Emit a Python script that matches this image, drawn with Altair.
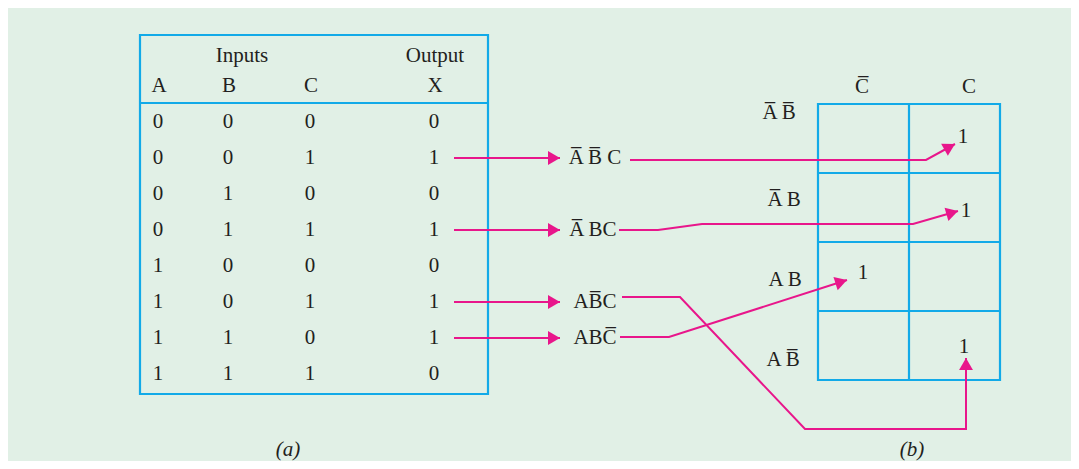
import math
import altair as alt
import pandas as pd

# ---------------- data ----------------
A = [0, 0, 0, 0, 1, 1, 1, 1]
B = [0, 0, 1, 1, 0, 0, 1, 1]
C = [0, 1, 0, 1, 0, 1, 0, 1]
X = [0, 1, 0, 1, 0, 1, 1, 0]
col_heads = ["A", "B", "C", "X"]
group_heads = ["Inputs", "Output"]
minterms = ["A\u0305 B\u0305 C", "A\u0305 BC", "AB\u0305C", "ABC\u0305"]
kmap_rows = ["A\u0305 B\u0305", "A\u0305 B", "A B", "A B\u0305"]
kmap_cols = ["C\u0305", "C"]
kmap_ones = [1, 1, 1, 1]
captions = ["(a)", "(b)"]

# ---------------- layout (reference pixel grid) ----------------
W, H = 1063, 453
BG = "#e1f0e6"
BLUE = "#12aae8"
PINK = "#e8168b"
INK = "#231f20"
FONT = "Liberation Serif"
FS = 21

tbl = dict(l=140, r=488, t=35, sep=103, b=394)
col_x = [158, 228, 310, 434]
row_y0, row_dy = 122, 36
row_y = [row_y0 + row_dy * i for i in range(len(A))]
head_y, group_y = 86, 56
group_x = [242, 435]

arrow_x0, arrow_x1 = 454, 560
term_x = [595, 593, 595, 595]

paths = [
    [(630, 160), (926, 160), (955, 144)],
    [(619, 230), (658, 230), (702, 224), (913, 224), (958, 211)],
    [(622, 297), (680, 297), (805, 429), (966, 429), (966, 358)],
    [(620, 337), (669, 337), (847, 280)],
]

km = dict(l=818, m=909, r=1000, ys=[104, 173, 242, 311, 380])
kcol_x, kcol_y = [862, 969], 87
krow_x, krow_y = [779, 784, 785, 783], [113, 200, 280, 360]
kone_pos = [(963, 137), (966, 211), (863, 273), (964, 347)]
cap_pos = [(288, 450), (912, 450)]

xs = alt.Scale(domain=[8, 8 + W], nice=False, zero=False)
ys = alt.Scale(domain=[8, 8 + H], nice=False, zero=False, reverse=True)


def XY(xf="x", yf="y"):
    return dict(x=alt.X(f"{xf}:Q", scale=xs, axis=None),
                y=alt.Y(f"{yf}:Q", scale=ys, axis=None))


# ---------------- text ----------------
texts = []
for i in range(len(A)):
    for j, v in enumerate([A[i], B[i], C[i], X[i]]):
        texts.append(dict(x=col_x[j], y=row_y[i], t=str(v)))
for j, h in enumerate(col_heads):
    texts.append(dict(x=col_x[j] + 1, y=head_y, t=h))
for j, h in enumerate(group_heads):
    texts.append(dict(x=group_x[j], y=group_y, t=h))
ones_rows = [i for i, v in enumerate(X) if v == 1]
for k, i in enumerate(ones_rows):
    texts.append(dict(x=term_x[k], y=row_y[i], t=minterms[k]))
for j, h in enumerate(kmap_cols):
    texts.append(dict(x=kcol_x[j], y=kcol_y, t=h))
for j, h in enumerate(kmap_rows):
    texts.append(dict(x=krow_x[j], y=krow_y[j], t=h))
for k, v in enumerate(kmap_ones):
    texts.append(dict(x=kone_pos[k][0], y=kone_pos[k][1], t=str(v)))
tdf = pd.DataFrame(texts)

text_layer = alt.Chart(tdf).mark_text(
    font=FONT, fontSize=FS, color=INK, align="center", baseline="middle"
).encode(**XY(), text="t:N")

cdf = pd.DataFrame([dict(x=p[0], y=p[1], t=c) for p, c in zip(cap_pos, captions)])
cap_layer = alt.Chart(cdf).mark_text(
    font=FONT, fontSize=FS, fontStyle="italic", color=INK, align="center", baseline="middle"
).encode(**XY(), text="t:N")

# ---------------- boxes ----------------
rects = pd.DataFrame([
    dict(x=tbl["l"], x2=tbl["r"], y=tbl["t"], y2=tbl["b"]),
    dict(x=km["l"], x2=km["r"], y=km["ys"][0], y2=km["ys"][-1]),
])
rect_layer = alt.Chart(rects).mark_rect(fillOpacity=0, stroke=BLUE, strokeWidth=2.2).encode(
    **XY(), x2="x2:Q", y2="y2:Q")

rules = [dict(x=tbl["l"], x2=tbl["r"], y=tbl["sep"], y2=tbl["sep"])]
rules.append(dict(x=km["m"], x2=km["m"], y=km["ys"][0], y2=km["ys"][-1]))
for yy in km["ys"][1:-1]:
    rules.append(dict(x=km["l"], x2=km["r"], y=yy, y2=yy))
rule_layer = alt.Chart(pd.DataFrame(rules)).mark_rule(color=BLUE, strokeWidth=2.2).encode(
    **XY(), x2="x2:Q", y2="y2:Q")

# ---------------- pink arrows ----------------
all_paths = [[(arrow_x0, row_y[i]), (arrow_x1, row_y[i])] for i in ones_rows] + paths
lines, heads = [], []
L = 12.0
for pid, pts in enumerate(all_paths):
    for k, (px, py) in enumerate(pts):
        lines.append(dict(id=pid, k=k, x=px, y=py))
    (ax, ay), (bx, by) = pts[-2], pts[-1]
    dx, dy = bx - ax, by - ay
    n = math.hypot(dx, dy)
    ux, uy = dx / n, dy / n
    ang = math.degrees(math.atan2(dx, -dy)) % 360
    heads.append(dict(x=bx - ux * L / 2, y=by - uy * L / 2, a=ang))
line_layer = alt.Chart(pd.DataFrame(lines)).mark_line(color=PINK, strokeWidth=2).encode(
    **XY(), detail="id:N", order="k:Q")
head_layer = alt.Chart(pd.DataFrame(heads)).mark_point(
    shape="triangle-up", filled=True, fill=PINK, color=PINK, opacity=1, size=(L / 0.866) ** 2
).encode(**XY(), angle=alt.Angle("a:Q", scale=None))

chart = alt.layer(
    rect_layer, rule_layer, line_layer, head_layer, text_layer, cap_layer
).properties(
    width=W, height=H, background=BG, padding=0,
    autosize=alt.AutoSizeParams(type="none"),
).configure_view(stroke=None)

chart.save("out.html", embed_options={"renderer": "svg", "actions": False})
